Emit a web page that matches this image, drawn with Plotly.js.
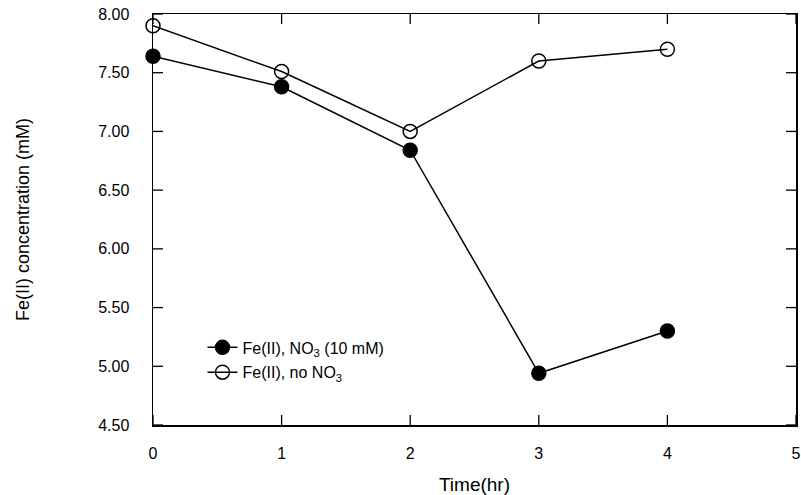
<!DOCTYPE html>
<html>
<head>
<meta charset="utf-8">
<script src="https://cdn.plot.ly/plotly-3.0.1.min.js"></script>
<style>html,body{margin:0;padding:0;background:#fff;}#chart{width:801px;height:495px;}</style>
</head>
<body>
<div id="chart"></div>
<script>
var timeHr = [0, 1, 2, 3, 4];
var feWithNO3 = [7.64, 7.38, 6.84, 4.94, 5.30];
var feNoNO3 = [7.90, 7.51, 7.00, 7.60, 7.70];
var xTicks = [0, 1, 2, 3, 4, 5];
var yTicks = [4.5, 5.0, 5.5, 6.0, 6.5, 7.0, 7.5, 8.0];
var seriesNames = ["Fe(II), NO<sub>3</sub> (10 mM)", "Fe(II), no NO<sub>3</sub>"];

var FONT = "Liberation Sans, Arial, sans-serif";
var X_RANGE = [0, 5];
var Y_RANGE = [4.5, 8];
var W = 801, H = 495;
var M = {l: 153, r: 5, t: 14, b: 70};
var TICK_LEN = 10; // px

// inside tick marks on all four sides, built from the tick arrays in axis units
var plotW = W - M.l - M.r, plotH = H - M.t - M.b;
var dx = TICK_LEN * (X_RANGE[1] - X_RANGE[0]) / plotW;
var dy = TICK_LEN * (Y_RANGE[1] - Y_RANGE[0]) / plotH;
var tx = [], ty = [];
xTicks.forEach(function(v) {
  tx.push(v, v, null, v, v, null);
  ty.push(Y_RANGE[0], Y_RANGE[0] + dy, null, Y_RANGE[1], Y_RANGE[1] - dy, null);
});
yTicks.forEach(function(v) {
  tx.push(X_RANGE[0], X_RANGE[0] + dx, null, X_RANGE[1], X_RANGE[1] - dx, null);
  ty.push(v, v, null, v, v, null);
});

var traces = [
  {
    x: tx, y: ty, mode: "lines", showlegend: false, hoverinfo: "skip", connectgaps: false,
    cliponaxis: false, line: {color: "#000", width: 1.3}
  },
  {
    x: timeHr, y: feWithNO3, name: seriesNames[0], mode: "lines+markers", legendgroup: "a",
    cliponaxis: false,
    line: {color: "#000", width: 1.5},
    marker: {symbol: "circle", size: 14, color: "#000", line: {color: "#000", width: 1.5}}
  },
  {
    x: timeHr, y: feNoNO3, name: seriesNames[1], mode: "lines+markers", legendgroup: "b",
    cliponaxis: false,
    line: {color: "#000", width: 1.5},
    marker: {symbol: "circle-open", size: 14, color: "#000", line: {color: "#000", width: 1.5}}
  }
];

// axes: frame + labels; transparent outside ticks set the label gap
var xa = {
  range: X_RANGE, tickmode: "array", tickvals: xTicks, ticktext: xTicks.map(String),
  showgrid: false, zeroline: false, showline: true, linecolor: "#000", linewidth: 1.5, mirror: true,
  ticks: "outside", ticklen: 13, tickwidth: 1, tickcolor: "rgba(0,0,0,0)",
  tickfont: {family: FONT, size: 16, color: "#000"},
  title: {text: "Time(hr)", font: {family: FONT, size: 19, color: "#000"}, standoff: 22}
};
var ya = {
  range: Y_RANGE, tickmode: "array", tickvals: yTicks,
  ticktext: yTicks.map(function(v){return v.toFixed(2);}),
  showgrid: false, zeroline: false, showline: true, linecolor: "#000", linewidth: 1.5, mirror: true,
  ticks: "outside", ticklen: 19, tickwidth: 1, tickcolor: "rgba(0,0,0,0)",
  tickfont: {family: FONT, size: 16, color: "#000"},
  title: {text: "Fe(II) concentration (mM)", font: {family: FONT, size: 18, color: "#000"}, standoff: 64}
};

var layout = {
  width: W, height: H,
  margin: M,
  paper_bgcolor: "#fff", plot_bgcolor: "#fff",
  font: {family: FONT, color: "#000"},
  xaxis: xa, yaxis: ya,
  showlegend: true,
  legend: {
    x: 0.077, y: 0.23, xanchor: "left", yanchor: "top",
    bgcolor: "rgba(0,0,0,0)", borderwidth: 0, tracegroupgap: 1,
    font: {family: FONT, size: 16, color: "#000"}
  }
};

Plotly.newPlot("chart", traces, layout, {displayModeBar: false, staticPlot: true});
</script>
</body>
</html>
